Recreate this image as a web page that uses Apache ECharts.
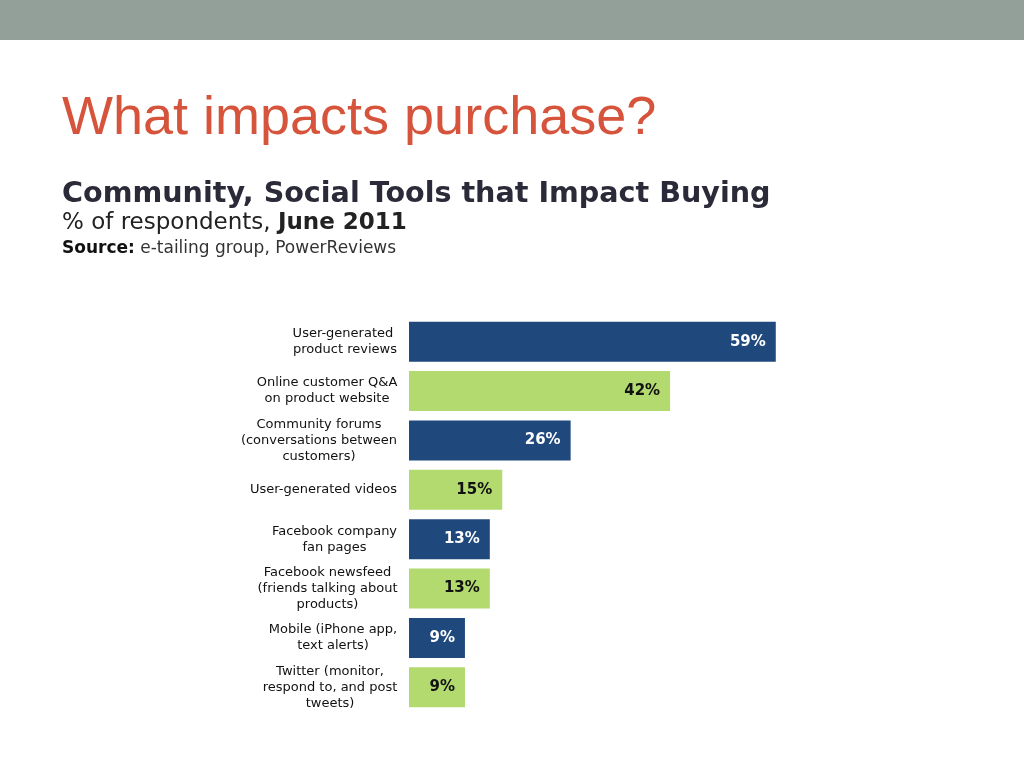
<!DOCTYPE html>
<html>
<head>
<meta charset="utf-8">
<script src="https://cdn.jsdelivr.net/npm/echarts@6/dist/echarts.min.js"></script>
<style>
  html, body { margin: 0; padding: 0; background: #fff; }
  #main { width: 1024px; height: 768px; }
</style>
</head>
<body>
<div id="main"></div>
<script>
// data
var categories = [
    'User-generated \nproduct reviews',
    'Online customer Q&A\non product website',
    'Community forums\n(conversations between\ncustomers)',
    'User-generated videos',
    'Facebook company\nfan pages',
    'Facebook newsfeed\n(friends talking about\nproducts)',
    'Mobile (iPhone app,\ntext alerts)',
    'Twitter (monitor,\nrespond to, and post\ntweets)'
];
var values = [59, 42, 26, 15, 13, 13, 9, 9];

var BLUE = '#1f497d', GREEN = '#b2da6e';
var LABEL_SIZE = 13;

// measure each label block so its lines can be centred inside a right-aligned block
var ctx = document.createElement('canvas').getContext('2d');
ctx.font = LABEL_SIZE + 'px "DejaVu Sans"';
var rich = {};
categories.forEach(function(c, i) {
    var w = 0;
    c.split('\n').forEach(function(line) {
        w = Math.max(w, ctx.measureText(line).width);
    });
    rich['c' + i] = {
        width: Math.ceil(w) + 1,
        align: 'center',
        fontFamily: 'DejaVu Sans',
        fontSize: LABEL_SIZE,
        lineHeight: 16,
        color: '#111'
    };
});

var barData = values.map(function(v, i) {
    var blue = i % 2 === 0;
    return {
        value: v,
        itemStyle: { color: blue ? BLUE : GREEN },
        label: { color: blue ? '#fff' : '#111' }
    };
});

var option = {
    backgroundColor: '#fff',
    animation: false,
    graphic: [{
        type: 'rect',
        shape: { x: 0, y: 0, width: 1024, height: 40 },
        style: { fill: '#939f99' }
    }],
    title: [{
        text: 'What impacts purchase?',
        left: 62, top: 92, padding: 0,
        textStyle: { fontFamily: 'Liberation Sans', fontSize: 54, fontWeight: 'normal', color: '#d5543b' }
    }, {
        text: 'Community, Social Tools that Impact Buying',
        left: 62, top: 180, padding: 0,
        textStyle: { fontFamily: 'DejaVu Sans', fontSize: 28.6, fontWeight: 'bold', color: '#2a2a38' }
    }, {
        text: '% of respondents, {b|June 2011}',
        left: 62, top: 212, padding: 0,
        textStyle: {
            fontFamily: 'DejaVu Sans', fontSize: 23, fontWeight: 'normal', color: '#222',
            rich: { b: { fontFamily: 'DejaVu Sans', fontSize: 23, fontWeight: 'bold', color: '#222' } }
        }
    }, {
        text: '{b|Source:} e-tailing group, PowerReviews',
        left: 62, top: 240, padding: 0,
        textStyle: {
            fontFamily: 'DejaVu Sans', fontSize: 17, fontWeight: 'normal', color: '#333',
            rich: { b: { fontFamily: 'DejaVu Sans', fontSize: 17, fontWeight: 'bold', color: '#111' } }
        }
    }],
    grid: { left: 409, top: 317, right: 242, bottom: 56 },
    xAxis: {
        type: 'value',
        min: 0, max: 60,
        show: false
    },
    yAxis: {
        type: 'category',
        inverse: true,
        data: categories,
        axisLine: { show: false },
        axisTick: { show: false },
        splitLine: { show: false },
        axisLabel: {
            margin: 11,
            align: 'right',
            rich: rich,
            formatter: function(value, index) {
                return value.split('\n').map(function(line) {
                    return '{c' + index + '|' + line + '}';
                }).join('\n');
            }
        }
    },
    series: [{
        type: 'bar',
        data: barData,
        barWidth: 40,
        label: {
            show: true,
            position: 'insideRight',
            distance: 10,
            fontFamily: 'DejaVu Sans',
            fontSize: 15,
            fontWeight: 'bold',
            formatter: '{c}%'
        }
    }]
};

var myChart = echarts.init(document.getElementById('main'));
myChart.setOption(option);
</script>
</body>
</html>
